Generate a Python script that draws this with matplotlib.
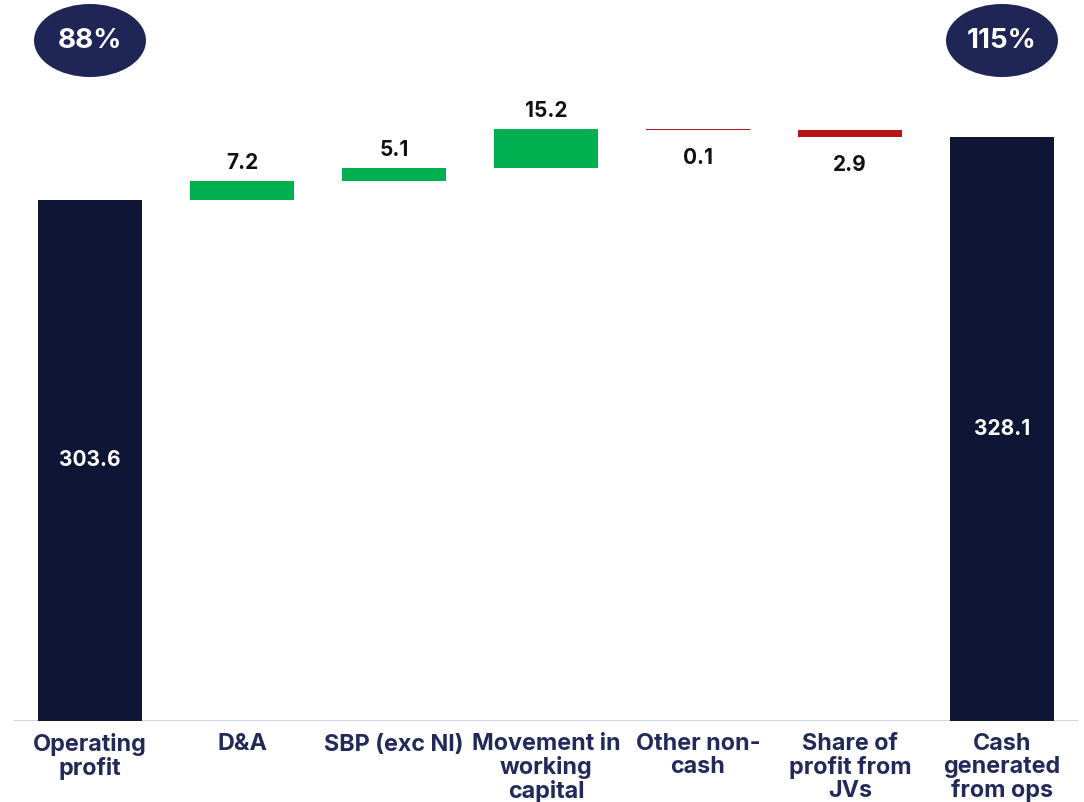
import matplotlib
matplotlib.use("Agg")
import matplotlib.pyplot as plt
from matplotlib.patches import Ellipse
import numpy as np

categories = ["Operating\nprofit", "D&A", "SBP (exc NI)", "Movement in\nworking\ncapital",
              "Other non-\ncash", "Share of\nprofit from\nJVs", "Cash\ngenerated\nfrom ops"]
start_total = 303.6
deltas = [7.2, 5.1, 15.2, -0.1, -2.9]
end_total = 328.1
badges = ["88%", "115%"]

NAVY = "#0e1535"
GREEN = "#00b050"
RED = "#b41419"
BADGE = "#1f2555"
LABEL = "#222a5a"
FONT = "Inter"

plt.rcParams['font.family'] = [FONT, 'DejaVu Sans']

fig = plt.figure(figsize=(10.84, 8.02), dpi=100)
ax = fig.add_axes([14/1084, (802-721)/802, (1078-14)/1084, (721-100)/802])
ymin = 100
ymax = ymin + 621/2.56
ax.set_xlim(-0.5, len(categories) - 0.5)
ax.set_ylim(ymin, ymax)

w = 0.684
x = np.arange(len(categories))

# totals
ax.bar(x[0], start_total - ymin, bottom=ymin, width=w, color=NAVY, linewidth=0)
ax.bar(x[-1], end_total - ymin, bottom=ymin, width=w, color=NAVY, linewidth=0)
ax.text(x[0], (start_total + ymin) / 2, f"{start_total:.1f}", ha='center', va='center',
        color='white', fontsize=15, fontweight='bold')
ax.text(x[-1], (end_total + ymin) / 2, f"{end_total:.1f}", ha='center', va='center',
        color='white', fontsize=15, fontweight='bold')

cum = start_total
for i, d in enumerate(deltas, start=1):
    bottom = cum if d >= 0 else cum + d
    ax.bar(x[i], abs(d), bottom=bottom, width=w, color=GREEN if d >= 0 else RED, linewidth=0)
    if d >= 0:
        ax.annotate(f"{abs(d):.1f}", (x[i], cum + d), xytext=(0, 9), textcoords='offset points',
                    ha='center', va='baseline', fontsize=15, fontweight='bold', color='#111111')
    else:
        ax.annotate(f"{abs(d):.1f}", (x[i], cum + d), xytext=(0, -13), textcoords='offset points',
                    ha='center', va='top', fontsize=15, fontweight='bold', color='#111111')
    cum += d

ax.axhline(ymin, color="#d0d4ec", lw=1.5, zorder=0)
for s in ax.spines.values():
    s.set_visible(False)
ax.set_yticks([])
ax.set_xticks(x)
ax.set_xticklabels(categories, fontsize=16.8, fontweight='bold', color=LABEL, linespacing=1.05)
ax.tick_params(axis='x', length=0, pad=9)

# badges
for xi, txt in zip([x[0], x[-1]], badges):
    xf = fig.transFigure.inverted().transform(ax.transData.transform((xi, ymin)))[0]
    e = Ellipse((xf, 1 - 40.5/802), 112/1084, 73/802, transform=fig.transFigure,
                facecolor=BADGE, edgecolor='none')
    fig.add_artist(e)
    fig.text(xf, 1 - 40.5/802, txt, ha='center', va='center', color='white',
             fontsize=20, fontweight='bold')

fig.savefig("out.png", dpi=100)
